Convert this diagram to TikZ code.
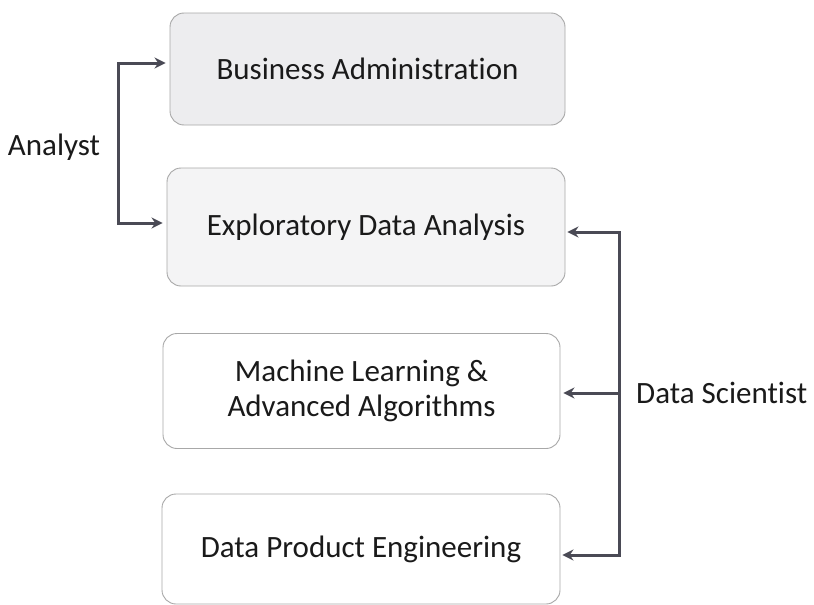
\documentclass[tikz,border=0pt]{standalone}
\usepackage{fontspec}
\setmainfont{Carlito}[Ligatures=NoCommon]
\usetikzlibrary{arrows.meta}
\definecolor{arrowgray}{HTML}{4A4A55}
\definecolor{boxline}{HTML}{A8A8A8}
\definecolor{fillA}{HTML}{EDEDEF}
\definecolor{fillB}{HTML}{F4F4F5}
\definecolor{txt}{HTML}{1A1A1A}
\tikzset{
  stagebox/.style={draw=boxline, line width=0.9pt, rounded corners=14pt, align=center,
    text=txt, font=\fontsize{31}{35}\selectfont, inner sep=0pt},
  conn/.style={draw=arrowgray, line width=3pt, -{Stealth[length=11pt,width=11pt]}},
  lbl/.style={text=txt, font=\fontsize{31}{35}\selectfont, inner sep=0pt}
}
\begin{document}
\begin{tikzpicture}[x=1pt,y=-1pt]
\useasboundingbox (0,0) rectangle (814,605);
\fill[white] (0,0) rectangle (814,605);
\node[stagebox, fill=fillA, minimum width=395pt, minimum height=112pt] (ba) at (367.5,69) {Business Administration};
\node[stagebox, fill=fillB, minimum width=398pt, minimum height=118pt] (eda) at (366,227) {Exploratory Data Analysis};
\node[stagebox, fill=white, minimum width=397pt, minimum height=115pt] (ml) at (361.5,391) {Machine Learning \&\\Advanced Algorithms};
\node[stagebox, fill=white, minimum width=398pt, minimum height=110pt] (dpe) at (361,549) {Data Product Engineering};
% Analyst connector
\coordinate (an1) at (118,63);
\coordinate (an2) at (118,223);
\draw[conn, {Stealth[length=11pt,width=11pt]}-{Stealth[length=11pt,width=11pt]}]
  ([xshift=-4pt]ba.west |- an1) -- (an1) -- (an2) -- ([xshift=-4pt]eda.west |- an2);
\node[lbl] (analyst) at (54,147) {Analyst};
% Data Scientist connector
\coordinate (ds1) at (619,232);
\coordinate (ds2) at (619,393);
\coordinate (ds3) at (619,555);
\draw[conn] (ds1) -- ([xshift=2pt]eda.east |- ds1);
\draw[conn] (ds2) -- ([xshift=3pt]ml.east |- ds2);
\draw[conn] (ds3) -- ([xshift=2pt]dpe.east |- ds3);
\draw[draw=arrowgray, line width=3pt] (ds1) -- (ds3);
\draw[draw=arrowgray, line width=3pt] ([xshift=-1.5pt]ds1) -- ([xshift=1.5pt]ds1);
\draw[draw=arrowgray, line width=3pt] ([xshift=-1.5pt]ds3) -- ([xshift=1.5pt]ds3);
\node[lbl, anchor=west] (ds) at (636,393) {Data Scientist};
\end{tikzpicture}
\end{document}
